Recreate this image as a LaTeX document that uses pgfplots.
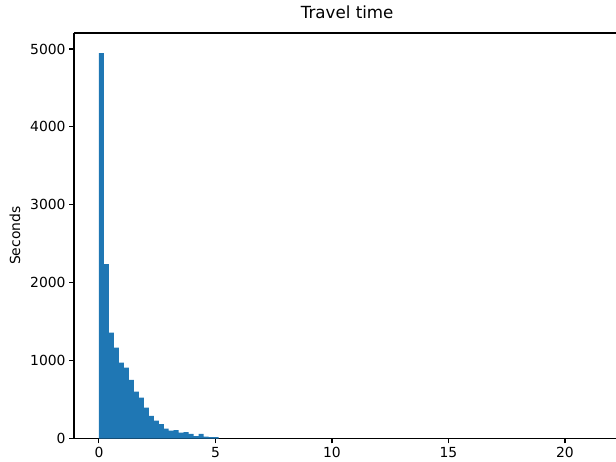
\documentclass[border=0pt]{standalone}
\usepackage{fontspec}
\setmainfont{DejaVu Sans}
\usepackage{pgfplots}
\pgfplotsset{compat=1.18}
\definecolor{mplblue}{HTML}{1F77B4}

% histogram: left bin edges and counts (last row closes the final bin)
\begin{document}
\begin{tikzpicture}
\useasboundingbox (-74pt,-22.5pt) rectangle (542pt,438.5pt);
\begin{axis}[
  at={(0,0)}, anchor=south west,
  scale only axis, width=542pt, height=405.5pt,
  xmin=-1.07, xmax=22.19, ymin=0, ymax=5205,
  axis y line*=left,
  xtick={0,5,10,15,20}, ytick={0,1000,...,5000},
  xtick pos=left,
  tick align=outside, major tick length=4.9pt,
  axis line style={line width=1.1pt, black},
  tick style={line width=1.1pt, black},
  /pgf/number format/assume math mode=true,
  /pgf/number format/set thousands separator={},
  scaled y ticks=false,
  tick label style={font=\fontsize{13.9}{16}\selectfont},
  title=Travel time,
  title style={at={(axis description cs:0.504,1)}, anchor=base, yshift=8.3pt,
    font=\fontsize{16.7}{20}\selectfont},
  ylabel=Seconds,
  ylabel style={at={(axis description cs:-0.1089,0.5)}, anchor=center,
    font=\fontsize{13.9}{16}\selectfont},
]
\addplot[ybar interval, fill=mplblue, draw=none] table {
x y
0.000 4947
0.214 2239
0.428 1358
0.642 1166
0.856 973
1.070 909
1.284 751
1.498 601
1.712 524
1.926 395
2.140 289
2.354 229
2.568 186
2.782 126
2.996 100
3.210 109
3.424 74
3.638 83
3.852 58
4.066 32
4.280 58
4.494 23
4.708 19
4.922 17
5.136 0
};
\end{axis}
\end{tikzpicture}
\end{document}
